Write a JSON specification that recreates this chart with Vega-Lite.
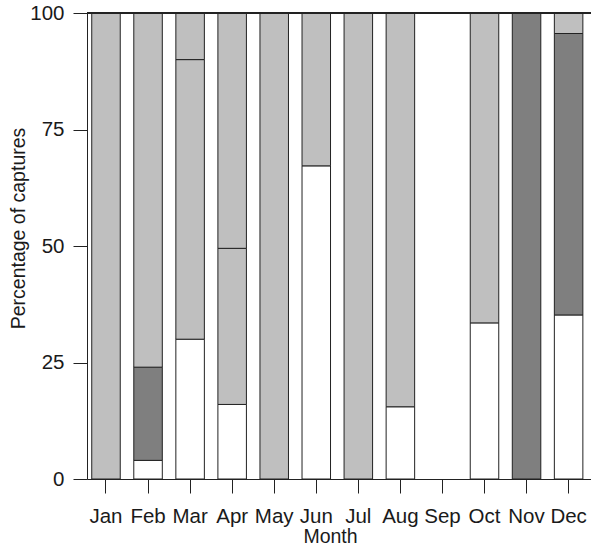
{
  "$schema": "https://vega.github.io/schema/vega-lite/v6.json",
  "autosize": "none",
  "width": 504,
  "height": 466,
  "padding": {"left": 87, "top": 13, "right": 0, "bottom": 69},
  "background": "white",
  "config": {
    "view": {"stroke": null},
    "font": "Liberation Sans",
    "axis": {
      "labelFont": "Liberation Sans",
      "titleFont": "Liberation Sans",
      "labelFontSize": 20.5,
      "titleFontSize": 19.5,
      "titleFontWeight": "normal",
      "labelColor": "#1a1a1a",
      "titleColor": "#1a1a1a",
      "domainColor": "#222",
      "tickColor": "#222",
      "domainWidth": 1,
      "tickWidth": 1,
      "tickSize": 14,
      "grid": false
    }
  },
  "data": {
    "values": [
      {"month": "Jan", "group": "Group 3", "ord": 3, "pct": 100},
      {"month": "Feb", "group": "Group 1", "ord": 1, "pct": 4},
      {"month": "Feb", "group": "Group 2", "ord": 2, "pct": 20},
      {"month": "Feb", "group": "Group 3", "ord": 3, "pct": 76},
      {"month": "Mar", "group": "Group 1", "ord": 1, "pct": 30},
      {"month": "Mar", "group": "Group 3", "ord": 3, "pct": 60},
      {"month": "Mar", "group": "Group 4", "ord": 4, "pct": 10},
      {"month": "Apr", "group": "Group 1", "ord": 1, "pct": 16},
      {"month": "Apr", "group": "Group 3", "ord": 3, "pct": 33.5},
      {"month": "Apr", "group": "Group 4", "ord": 4, "pct": 50.5},
      {"month": "May", "group": "Group 3", "ord": 3, "pct": 100},
      {"month": "Jun", "group": "Group 1", "ord": 1, "pct": 67.2},
      {"month": "Jun", "group": "Group 3", "ord": 3, "pct": 32.8},
      {"month": "Jul", "group": "Group 3", "ord": 3, "pct": 100},
      {"month": "Aug", "group": "Group 1", "ord": 1, "pct": 15.5},
      {"month": "Aug", "group": "Group 3", "ord": 3, "pct": 84.5},
      {"month": "Oct", "group": "Group 1", "ord": 1, "pct": 33.5},
      {"month": "Oct", "group": "Group 3", "ord": 3, "pct": 66.5},
      {"month": "Nov", "group": "Group 2", "ord": 2, "pct": 100},
      {"month": "Dec", "group": "Group 1", "ord": 1, "pct": 35.2},
      {"month": "Dec", "group": "Group 2", "ord": 2, "pct": 60.4},
      {"month": "Dec", "group": "Group 3", "ord": 3, "pct": 4.4}
    ]
  },
  "encoding": {
    "x": {
      "field": "month",
      "type": "nominal",
      "scale": {
        "domain": ["Jan", "Feb", "Mar", "Apr", "May", "Jun", "Jul", "Aug", "Sep", "Oct", "Nov", "Dec"],
        "paddingInner": 0.322,
        "paddingOuter": 0.153,
        "align": 0.368
      },
      "axis": {
        "title": "Month",
        "labelAngle": 0,
        "labelPadding": 13,
        "labelOverlap": false,
        "titleX": 243,
        "titleY": 63,
        "titleBaseline": "alphabetic",
        "titleAnchor": null,
        "titleAlign": "center"
      }
    },
    "y": {
      "field": "pct",
      "type": "quantitative",
      "stack": "zero",
      "scale": {"domain": [0, 100], "nice": false},
      "axis": {
        "title": "Percentage of captures",
        "values": [0, 25, 50, 75, 100],
        "labelPadding": 9,
        "titleAngle": 270,
        "titleX": -63,
        "titleY": 215,
        "titleBaseline": "alphabetic",
        "titleAlign": "center",
        "titleAnchor": null
      }
    }
  },
  "layer": [
    {
      "mark": {"type": "bar", "stroke": "#222", "strokeWidth": 1},
      "encoding": {
        "color": {
          "field": "group",
          "type": "nominal",
          "scale": {
            "domain": ["Group 1", "Group 2", "Group 3", "Group 4"],
            "range": ["#ffffff", "#7f7f7f", "#bfbfbf", "#bfbfbf"]
          },
          "legend": null
        },
        "order": {"field": "ord", "type": "quantitative"}
      }
    },
    {
      "mark": {"type": "rule", "color": "#222", "strokeWidth": 1},
      "encoding": {"y": {"datum": 100}, "x": null}
    }
  ]
}
